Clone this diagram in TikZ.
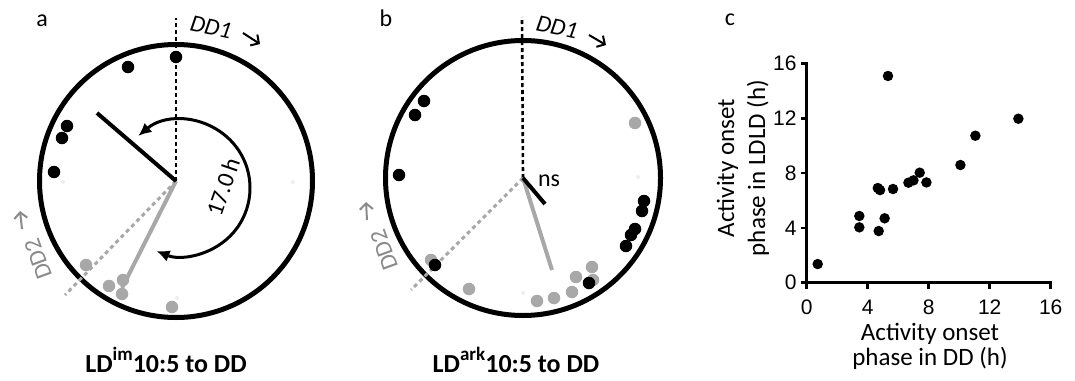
\documentclass[tikz,border=0pt]{standalone}
\usepackage{fontspec}
\setmainfont{Carlito}
\newfontfamily\arialfont{Liberation Sans}
\usetikzlibrary{arrows.meta,calc}
\definecolor{lightdot}{HTML}{A8A8A8}
\definecolor{dimtext}{HTML}{8A8A8A}
\newcommand{\condsup}[1]{\raisebox{0.45em}{\fontsize{19}{19}\selectfont #1}}

\begin{document}
\begin{tikzpicture}[x=1pt,y=-1pt]
% radius of the phase circles
\def\rad{136.5}
% text size
\def\lblsize{\fontsize{24}{29}\selectfont}
% style definitions
\tikzstyle{rim} = [draw, line width=5pt];
\tikzstyle{dd1line} = [draw, line width=2.6pt, dash pattern=on 4pt off 3pt];
\tikzstyle{dd2line} = [draw=lightdot, line width=3pt, dash pattern=on 4pt off 3.5pt];
\tikzstyle{meanvec} = [draw, line width=4pt];
\tikzstyle{greyvec} = [draw=lightdot, line width=4pt];
\tikzstyle{blackdot} = [circle, fill=black, inner sep=0pt, minimum size=12.5pt];
\tikzstyle{greydot} = [circle, fill=lightdot, inner sep=0pt, minimum size=12.5pt];
\tikzstyle{faintdot} = [circle, fill=black!7, inner sep=0pt, minimum size=4pt];
\tikzstyle{plotdot} = [circle, fill=black, inner sep=0pt, minimum size=10.5pt];
\tikzstyle{plain} = [draw=none, fill=none, inner sep=0pt, font=\lblsize];
\tikzstyle{caption} = [plain, anchor=base, font=\fontsize{26}{30}\selectfont\bfseries];
\tikzstyle{pointer} = [line width=2pt, -{Straight Barb[length=6pt,width=13pt]}];

\useasboundingbox (0,0) rectangle (1075,380);

%%% panel a
\node[plain, anchor=base] (laba) at (42,27) {a};
\coordinate (ca) at (176,181);
\draw[rim] (ca) circle (\rad);
\coordinate (dd1a) at (176,18);
\coordinate (dd2a) at (65,295);
\draw[dd1line] (ca) -- (dd1a);
\draw[dd2line] (ca) -- (dd2a);
\foreach \x/\y [count=\i] in {63/182, 293/182, 177/298}
  \node[faintdot] (fa\i) at (\x,\y) {};
\foreach \x/\y [count=\i] in {176/57, 128/67, 67/126, 62/138, 54/172}
  \node[blackdot] (ba\i) at (\x,\y) {};
\foreach \x/\y [count=\i] in {86/265, 109/286, 123/280, 122/294, 172/307}
  \node[greydot] (ga\i) at (\x,\y) {};
\coordinate (veca) at (97,113);
\coordinate (greya) at (122,288);
\draw[greyvec] (ca) -- (greya);
\draw[meanvec] (ca) -- (veca);
% phase shift arc
\coordinate (arca) at (182,188);
\draw[line width=3pt, {Latex[length=13pt,width=12pt]}-{Latex[length=13pt,width=12pt]}]
  ($(arca)+(-130:68)$) arc[start angle=-130, end angle=112, radius=68];
\node[plain, rotate=71] (shifta) at (223,187) {17.0\,h};
\node[plain, rotate=-12] (dd1texta) at (211,27) {\textit{DD1}};
\coordinate (pa1) at (243,33);
\coordinate (pa2) at (260,44);
\draw[pointer] (pa1) -- (pa2);
\node[plain, rotate=110, text=dimtext] (dd2texta) at (38,259) {DD2};
\coordinate (qa1) at (22,229);
\coordinate (qa2) at (20,211);
\draw[pointer, draw=dimtext] (qa1) -- (qa2);
\node[caption] (capa) at (166,372) {LD\condsup{im}10:5 to DD};

%%% panel b
\node[plain, anchor=base] (labb) at (386,27) {b};
\coordinate (cb) at (523,178);
\draw[rim] (cb) circle (\rad+1);
\coordinate (dd1b) at (522,17);
\coordinate (dd2b) at (411,290);
\draw[dd1line] (cb) -- (dd1b);
\draw[dd2line] (cb) -- (dd2b);
\foreach \x/\y [count=\i] in {638/177, 523/293}
  \node[faintdot] (fb\i) at (\x,\y) {};
\foreach \x/\y [count=\i] in {635/123, 431/260, 469/289, 537/301, 554/298, 572/292, 576/277, 592/267, 593/280}
  \node[greydot] (gb\i) at (\x,\y) {};
\foreach \x/\y [count=\i] in {424/101, 415/115, 399/175, 644/201, 642/211, 635/229, 631/235, 626/246, 435/265, 589/283}
  \node[blackdot] (bb\i) at (\x,\y) {};
\coordinate (vecb) at (545,204);
\coordinate (greyb) at (552,270);
\draw[greyvec] (cb) -- (greyb);
\draw[meanvec] (cb) -- (vecb);
\node[plain] (nsb) at (549,181) {ns};
\node[plain, rotate=-12] (dd1textb) at (557,27) {\textit{DD1}};
\coordinate (pb1) at (589,35);
\coordinate (pb2) at (606,45);
\draw[pointer] (pb1) -- (pb2);
\node[plain, rotate=110, text=dimtext] (dd2textb) at (384,250) {DD2};
\coordinate (qb1) at (367,220);
\coordinate (qb2) at (366,202);
\draw[pointer, draw=dimtext] (qb1) -- (qb2);
\node[caption] (capb) at (516,372) {LD\condsup{ark}10:5 to DD};

%%% panel c
\node[plain, anchor=base] (labc) at (730,25) {c};
\begin{scope}[shift={(806.7,282.7)}, x=15.25pt, y=13.7pt]
  \coordinate (orig) at (0,0);
  \coordinate (xend) at (16,0);
  \coordinate (yend) at (0,16);
  \draw[line width=2.5pt, line cap=rect] (xend) -- (orig) -- (yend);
  \foreach \t in {0,4,...,16} {
    \draw[line width=2.5pt] (\t,0) -- ++(0,-6pt);
    \draw[line width=2.5pt] (0,\t) -- ++(-6pt,0);
    \node[anchor=north, inner sep=0pt, font=\arialfont\fontsize{21}{21}\selectfont] (xt\t) at ([yshift=-17pt]\t,0) {\t};
    \node[anchor=east, inner sep=0pt, font=\arialfont\fontsize{21}{21}\selectfont] (yt\t) at ([xshift=-10pt]0,\t) {\t};
  }
  \foreach \x/\y [count=\i] in {0.72/1.36, 3.45/4.87, 3.45/4.04, 4.72/3.77, 4.66/6.91,
      4.81/6.76, 5.11/4.70, 5.33/15.09, 5.66/6.84, 6.67/7.30, 7.0/7.47,
      7.41/8.03, 7.85/7.32, 10.08/8.59, 11.06/10.73, 13.88/11.97}
    \node[plotdot] (pc\i) at (\x,\y) {};
\end{scope}
\node[plain, rotate=90, align=center, font=\fontsize{25}{31}\selectfont] (ytitle) at (743,168) {Activity onset\\phase in LDLD (h)};
\node[plain, align=center, font=\fontsize{25}{25}\selectfont] (xtitle) at (930,346) {Activity onset\\phase in DD (h)};
\end{tikzpicture}
\end{document}
